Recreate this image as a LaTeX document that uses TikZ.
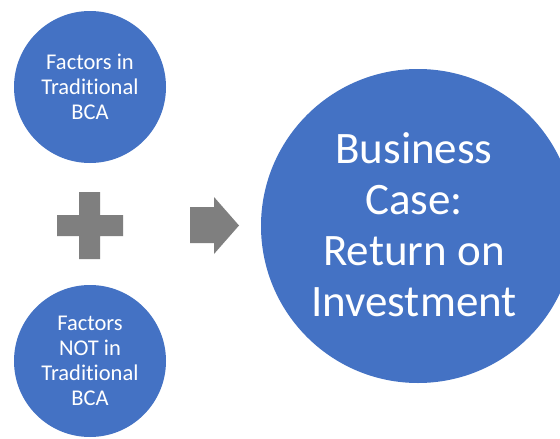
\documentclass[tikz,border=0pt]{standalone}
\usepackage{fontspec}
\setmainfont{Carlito}[RawFeature={-liga;-dlig;-clig}]
\definecolor{officeblue}{HTML}{4472C4}
\definecolor{symgray}{HTML}{7F7F7F}
\tikzset{
  bubble/.style={circle, fill=officeblue, draw=none, text=white, align=center, inner sep=0pt},
  smallbubble/.style={bubble, minimum size=152pt, font=\fontsize{22.5}{25}\selectfont},
  bigbubble/.style={bubble, minimum size=314pt, font=\fontsize{45}{51}\selectfont},
  symbolfill/.style={fill=symgray, draw=none}
}
\begin{document}
\begin{tikzpicture}[x=1pt,y=-1pt]
\useasboundingbox (0,0) rectangle (560,439);
\clip (0,0) rectangle (560,439);
\fill[white] (0,0) rectangle (560,439);
\node[smallbubble] (trad) at (90,87) {Factors in\\Traditional\\BCA};
\node[smallbubble] (nottrad) at (90,361) {Factors\\NOT in\\Traditional\\BCA};
\node[bigbubble] (roi) at (418,226) {};
\node[text=white, align=center, font=\fontsize{45}{51}\selectfont, inner sep=0pt] (roitext) at (414,225) {Business\\Case:\\Return on\\Investment};
% plus sign
\fill[symbolfill] (79,192) -- (100,192) -- (100,215) -- (123,215) -- (123,236) -- (100,236) -- (100,259) -- (79,259) -- (79,236) -- (57,236) -- (57,215) -- (79,215) -- cycle;
% block arrow
\fill[symbolfill] (190,207) -- (214,207) -- (214,197) -- (239,225.5) -- (214,254) -- (214,243) -- (190,243) -- cycle;
\end{tikzpicture}
\end{document}
